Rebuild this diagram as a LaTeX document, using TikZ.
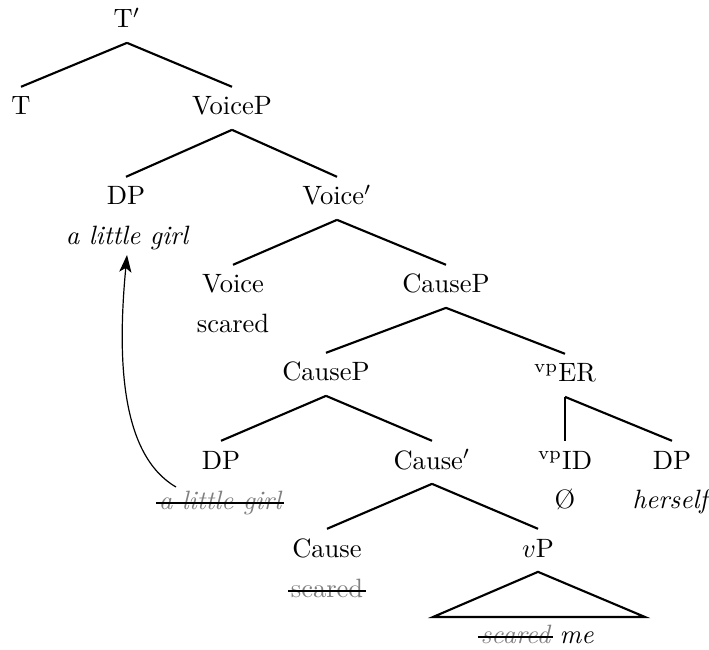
\documentclass[tikz,border=0pt]{standalone}
\usetikzlibrary{arrows.meta}
\newcommand{\strk}[1]{\setbox0\hbox{#1}\rlap{\textcolor{gray}{#1}}\kern-1pt\relax\rule[1.8pt]{\dimexpr\wd0+2pt\relax}{0.9pt}\kern-1pt\relax}
\begin{document}
\begin{tikzpicture}[x=0.377pt, y=-0.377pt,
  lbl/.style={inner xsep=0pt, inner ysep=3.6pt, text height=6.83pt, text depth=1.8pt, anchor=base},
  sub/.style={inner sep=0pt, anchor=base},
  branch/.style={line width=0.8pt},
  mv/.style={line width=0.45pt, -{Stealth[length=6.5pt, width=4.6pt, inset=1.6pt]}}]
\useasboundingbox (0,0) rectangle (709,650);
% labels
\node[lbl] (tbar) at (127,28) {T$'$};
\node[lbl] (t) at (21,115) {T};
\node[lbl] (voicep) at (232,115) {VoiceP};
\node[lbl] (dp1) at (126,205) {DP};
\node[sub] (girl1) at (127,245) {\itshape a little girl};
\node[lbl] (voicebar) at (337,205) {Voice$'$};
\node[lbl] (voice) at (233,293) {Voice};
\node[sub] (scared1) at (233,333) {scared};
\node[lbl] (causep1) at (446,293) {CauseP};
\node[lbl] (causep2) at (326,381) {CauseP};
\node[lbl] (er) at (565,382) {\textsuperscript{vp}ER};
\node[lbl] (dp2) at (221,469) {DP};
\node[sub] (girl2) at (220,509) {\itshape\strk{a little girl}};
\node[lbl] (causebar) at (432,469) {Cause$'$};
\node[lbl] (id) at (565,469) {\textsuperscript{vp}ID};
\node[sub] (null) at (565,508) {\O};
\node[lbl] (dp3) at (672,469) {DP};
\node[sub] (herself) at (670,508) {\itshape herself};
\node[lbl] (cause) at (327,557) {Cause};
\node[sub] (scared2) at (327,597) {\strk{scared}};
\node[lbl] (vp) at (538,557) {$v$P};
\node[sub] (scaredme) at (537,643) {\itshape\strk{scared} me};
\coordinate (tl) at (433,617);
\coordinate (tr) at (645,617);
\coordinate (mvstart) at (176,487);
\coordinate (mvend) at (127,255);
% branches
\draw[branch] (tbar.south) -- (t.north);
\draw[branch] (tbar.south) -- (voicep.north);
\draw[branch] (voicep.south) -- (dp1.north);
\draw[branch] (voicep.south) -- (voicebar.north);
\draw[branch] (voicebar.south) -- (voice.north);
\draw[branch] (voicebar.south) -- (causep1.north);
\draw[branch] (causep1.south) -- (causep2.north);
\draw[branch] (causep1.south) -- (er.north);
\draw[branch] (causep2.south) -- (dp2.north);
\draw[branch] (causep2.south) -- (causebar.north);
\draw[branch] (er.south) -- (id.north);
\draw[branch] (er.south) -- (dp3.north);
\draw[branch] (causebar.south) -- (cause.north);
\draw[branch] (causebar.south) -- (vp.north);
\draw[branch] (vp.south) -- (tl) -- (tr) -- cycle;
% movement
\draw[mv] (mvstart) .. controls (121,455) and (117,360) .. (mvend);
\end{tikzpicture}
\end{document}
